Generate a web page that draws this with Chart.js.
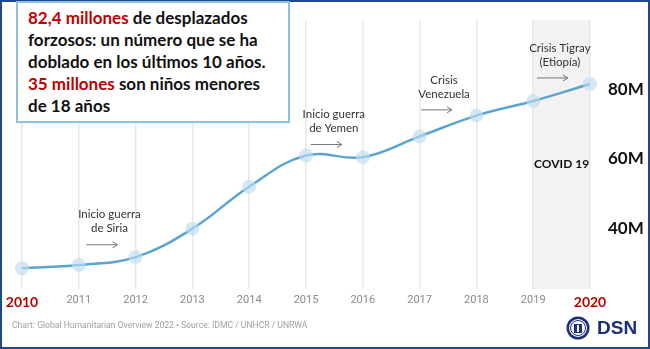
<!DOCTYPE html>
<html>
<head>
<meta charset="utf-8">
<script src="https://cdn.jsdelivr.net/npm/chart.js@4.4.1/dist/chart.umd.min.js"></script>
<style>
  html, body { margin: 0; padding: 0; background: #fff; }
  #wrap { position: relative; width: 650px; height: 349px; overflow: hidden; }
  canvas { position: absolute; left: 0; top: 0; }
  #box {
    position: absolute; left: 16px; top: 1px; width: 260px; height: 114px;
    border: 2px solid #8ec3e0; background: #fff;
    font-family: Lato, "Open Sans", sans-serif; font-weight: bold; font-size: 17px;
    line-height: 22px; color: #111; padding: 4px 0 0 10px; box-sizing: content-box;
    white-space: nowrap;
  }
  #box .red { color: #c00000; }
</style>
</head>
<body>
<div id="wrap">
  <canvas id="c" width="650" height="349"></canvas>
  <div id="box"><span class="red">82,4 millones</span> de desplazados<br>forzosos: un número que se ha<br>doblado en los últimos 10 años.<br><span class="red">35 millones</span> son niños menores<br>de 18 años</div>
</div>
<script>
// ---- data ----
const years = ["2010","2011","2012","2013","2014","2015","2016","2017","2018","2019","2020"];
const displacedMillions = [28.5, 29.4, 31.7, 39.9, 52.0, 61.0, 60.5, 66.5, 72.5, 76.7, 81.6];
const yTickValues = [40, 60, 80];
const highlightedYears = ["2010", "2020"];
const bandYears = ["2019", "2020"];
const bandLabel = "COVID 19";
const annotationLines = [
  ["Inicio guerra", "de Siria"],
  ["Inicio guerra", "de Yemen"],
  ["Crisis", "Venezuela"],
  ["Crisis Tigray", "(Etiopía)"]
];
const annotationX = [1.54, 5.49, 7.43, 9.47];      // category index position
const annotationY = [43.9, 72.8, 82.8, 92.0];      // value position of first line
const sourceText = "Chart: Global Humanitarian Overview 2022 \u2022 Source: IDMC / UNHCR / UNRWA";

// ---- plugins ----
const bandPlugin = {
  id: 'band',
  beforeDraw(chart) {
    const {ctx, chartArea, scales: {x}} = chart;
    const x0 = x.getPixelForValue(years.indexOf(bandYears[0]));
    const x1 = x.getPixelForValue(years.indexOf(bandYears[1]));
    ctx.save();
    ctx.fillStyle = '#f2f2f2';
    ctx.fillRect(x0, chartArea.top, x1 - x0, chartArea.bottom - chartArea.top);
    ctx.restore();
  }
};

function arrow(ctx, xa, xb, y) {
  ctx.beginPath();
  ctx.moveTo(xa, y); ctx.lineTo(xb, y);
  ctx.moveTo(xb - 5, y - 3); ctx.lineTo(xb, y); ctx.lineTo(xb - 5, y + 3);
  ctx.stroke();
}

const annotPlugin = {
  id: 'annot',
  afterDatasetsDraw(chart) {
    const {ctx, scales: {x, y}} = chart;
    ctx.save();
    ctx.font = '11.5px Lato, "Open Sans", sans-serif';
    ctx.fillStyle = '#333';
    ctx.strokeStyle = '#777';
    ctx.lineWidth = 1;
    ctx.textAlign = 'center';
    ctx.textBaseline = 'middle';
    annotationLines.forEach((lines, i) => {
      const cx = x.getPixelForValue(annotationX[i]);
      const cy = y.getPixelForValue(annotationY[i]);
      ctx.fillText(lines[0], cx, cy);
      ctx.fillText(lines[1], cx, cy + 14);
      arrow(ctx, cx - 23, cx + 8, cy + 30);
    });
    // band label
    const bx = (x.getPixelForValue(years.indexOf(bandYears[0])) + x.getPixelForValue(years.indexOf(bandYears[1]))) / 2;
    ctx.font = 'bold 12px Lato, "Open Sans", sans-serif';
    ctx.fillStyle = '#111';
    ctx.fillText(bandLabel, bx, y.getPixelForValue(58.5));
    ctx.restore();
  },
  afterDraw(chart) {
    const {ctx, width, height} = chart;
    ctx.save();
    // footer source
    ctx.font = '8.6px Roboto, sans-serif';
    ctx.fillStyle = '#a0a0a0';
    ctx.textAlign = 'left';
    ctx.textBaseline = 'middle';
    ctx.fillText(sourceText, 12, 326);
    // DSN logo
    const lx = 578, ly = 328;
    ctx.fillStyle = '#1b2f7e';
    ctx.beginPath(); ctx.arc(lx, ly, 11.5, 0, Math.PI * 2); ctx.fill();
    ctx.fillStyle = '#fff';
    ctx.beginPath(); ctx.arc(lx, ly, 9, 0, Math.PI * 2); ctx.fill();
    ctx.strokeStyle = '#1b2f7e'; ctx.lineWidth = 1;
    ctx.beginPath(); ctx.arc(lx, ly, 7.5, 0, Math.PI * 2); ctx.stroke();
    ctx.fillStyle = '#1b2f7e';
    ctx.fillRect(lx - 4, ly - 4, 8, 9);
    ctx.fillStyle = '#fff';
    ctx.fillRect(lx - 1, ly - 3, 2, 7);
    ctx.fillStyle = '#1b2f7e';
    ctx.font = 'bold 19px "Liberation Sans", Arial, sans-serif';
    ctx.textAlign = 'left';
    ctx.fillText('DSN', 597, 329);
    // outer frame
    ctx.strokeStyle = '#1f4690';
    ctx.lineWidth = 2;
    ctx.strokeRect(1, 1, width - 2, height - 2);
    ctx.restore();
  }
};

// ---- chart ----
new Chart(document.getElementById('c'), {
  type: 'line',
  data: {
    labels: years,
    datasets: [{
      data: displacedMillions,
      borderColor: '#5ba4d1',
      borderWidth: 2.5,
      tension: 0.4,
      pointRadius: 7,
      pointHoverRadius: 7,
      pointBackgroundColor: 'rgba(190,220,240,0.65)',
      pointBorderWidth: 0,
      fill: false
    }]
  },
  options: {
    responsive: false,
    animation: false,
    events: [],
    layout: { padding: { left: 22, top: 6, right: 0, bottom: 30 } },
    plugins: { legend: { display: false }, tooltip: { enabled: false }, title: { display: false } },
    scales: {
      x: {
        offset: false,
        grid: { display: true, color: '#e8e8e8', lineWidth: 1.5, drawTicks: false },
        border: { display: false },
        afterFit(s) { s.height = 30; },
        ticks: {
          padding: 5,
          maxRotation: 0,
          autoSkip: false,
          color: (c) => highlightedYears.includes(years[c.index]) ? '#c00000' : '#8a8a8a',
          font: (c) => highlightedYears.includes(years[c.index])
            ? { family: 'Lato, sans-serif', size: 14, weight: 'bold' }
            : { family: 'Roboto, sans-serif', size: 11 }
        }
      },
      y: {
        position: 'right',
        min: 22.5,
        max: 100,
        grid: { display: false },
        border: { display: false },
        afterFit(s) { s.width = 60; },
        afterBuildTicks(s) { s.ticks = yTickValues.map(v => ({ value: v })); },
        ticks: {
          padding: 10,
          color: '#111',
          font: { family: 'Lato, sans-serif', size: 17, weight: 'bold' },
          callback: (v) => v + 'M'
        }
      }
    }
  },
  plugins: [bandPlugin, annotPlugin]
});
</script>
</body>
</html>
